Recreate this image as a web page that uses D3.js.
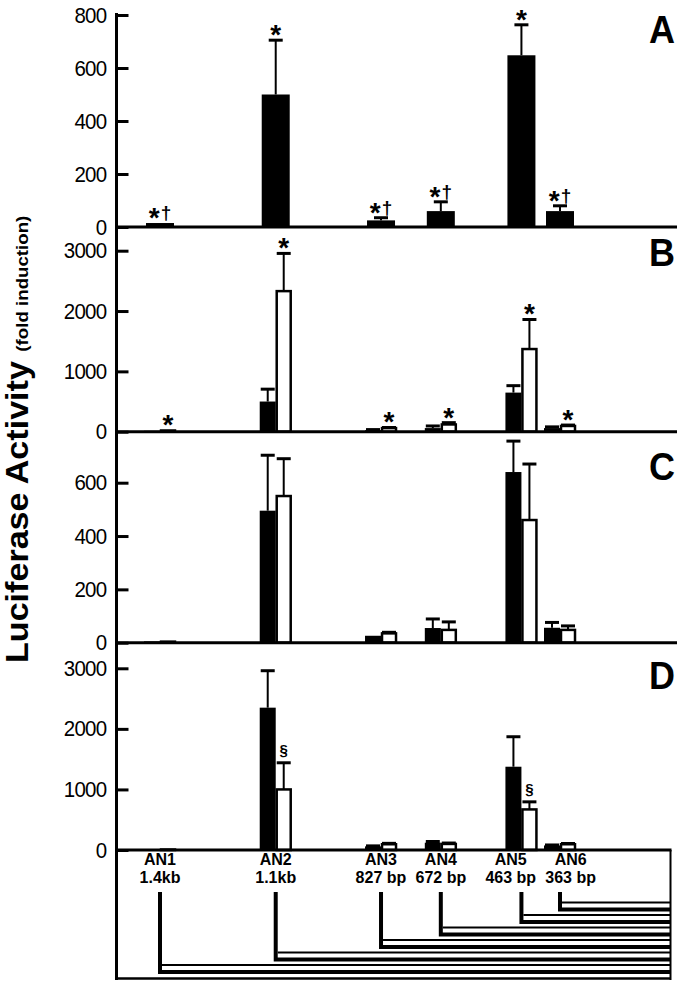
<!DOCTYPE html>
<html><head><meta charset="utf-8">
<script src="https://cdn.jsdelivr.net/npm/d3@7"></script>
<style>html,body{margin:0;padding:0;background:#fff}svg{display:block}</style>
</head><body>
<script>
// ---------- data ----------
const categories = ["AN1","AN2","AN3","AN4","AN5","AN6"];
const constructLengthBp = [1400,1100,827,672,463,363];
const lengthLabels = ["1.4kb","1.1kb","827 bp","672 bp","463 bp","363 bp"];

// Panel A (black only)
const aBlackMean = [15,500,25,60,648,60];
const aBlackErr  = [0,205,10,35,115,20];
const aMarks     = ["*†","*","*†","*†","*","*†"];
// Panel B
const bBlackMean = [15,500,25,60,648,60];
const bBlackErr  = [0,205,10,35,115,20];
const bWhiteMean = [20,2330,60,120,1370,95];
const bWhiteErr  = [0,625,10,30,490,15];
const bMarks     = ["*","*","*","*","*","*"];
// Panel C
const cBlackMean = [5,495,26,55,640,56];
const cBlackErr  = [0,208,0,34,116,20];
const cWhiteMean = [4,550,35,48,460,48];
const cWhiteErr  = [0,140,4,30,210,15];
// Panel D
const dBlackMean = [10,2350,60,120,1375,75];
const dBlackErr  = [0,610,8,20,495,8];
const dWhiteMean = [8,1000,95,100,670,95];
const dWhiteErr  = [0,440,15,15,125,12];
const dMarks     = ["","§","","","§",""];

const aTicks = [0,200,400,600,800];
const bTicks = [0,1000,2000,3000];
const cTicks = [0,200,400,600];
const dTicks = [0,1000,2000,3000];
const panelLetters = ["A","B","C","D"];
const yTitle = "Luciferase Activity";
const yTitleSub = "(fold induction)";

// ---------- layout ----------
const W = 677, H = 990;
const axisX = 116.5, rightX = 677, boxRight = 670.5;
const font = "'Liberation Sans', Arial, Helvetica, sans-serif";
const svg = d3.select("body").append("svg").attr("width", W).attr("height", H);

const x = d3.scaleLinear().domain([1400, 363]).range([160, 560]);
const bw = 16;

const panels = [
  {letter: panelLetters[0], domain:[0,800],  range:[227,15],      ticks:aTicks, single:true,
   black:aBlackMean, blackErr:aBlackErr, marks:aMarks, letterY:43},
  {letter: panelLetters[1], domain:[0,3000], range:[431.7,250.7], ticks:bTicks,
   black:bBlackMean, blackErr:bBlackErr, white:bWhiteMean, whiteErr:bWhiteErr, marks:bMarks, letterY:266},
  {letter: panelLetters[2], domain:[0,600],  range:[642.7,482.7], ticks:cTicks,
   black:cBlackMean, blackErr:cBlackErr, white:cWhiteMean, whiteErr:cWhiteErr, letterY:480},
  {letter: panelLetters[3], domain:[0,3000], range:[850,668.3],   ticks:dTicks,
   black:dBlackMean, blackErr:dBlackErr, white:dWhiteMean, whiteErr:dWhiteErr, marks:dMarks, letterY:689}
];

function drawErr(g, cx, y, mean, err){
  if(!err) return;
  const y0 = y(mean), y1 = y(mean+err);
  g.append("line").attr("x1",cx).attr("x2",cx).attr("y1",y0).attr("y2",y1)
    .attr("stroke","#000").attr("stroke-width",2);
  g.append("line").attr("x1",cx-7).attr("x2",cx+7).attr("y1",y1).attr("y2",y1)
    .attr("stroke","#000").attr("stroke-width",3);
}

function drawMark(g, txt, cx, capY){
  if(!txt) return;
  if(txt === "§"){
    g.append("text").attr("x",cx).attr("y",capY-8).attr("text-anchor","middle")
      .attr("font-family",font).attr("font-weight","bold").attr("font-size",15).text("§");
    return;
  }
  const t = g.append("text").attr("x",cx).attr("y",capY+4).attr("text-anchor","middle")
    .attr("font-family",font).attr("font-weight","bold").attr("font-size",28);
  t.append("tspan").text("*");
  if(txt.length>1){
    t.append("tspan").attr("font-size",19).attr("dy",-8).attr("dx",1).text(txt.slice(1));
  }
}

panels.forEach(p => {
  const y = d3.scaleLinear().domain(p.domain).range(p.range);
  const g = svg.append("g");
  categories.forEach((c,i) => {
    const cx = x(constructLengthBp[i]);
    if(p.single){
      g.append("rect").attr("x",cx-14).attr("width",28)
        .attr("y",y(p.black[i])).attr("height",y(0)-y(p.black[i])).attr("fill","#000");
      drawErr(g, cx, y, p.black[i], p.blackErr[i]);
      drawMark(g, p.marks[i], cx, y(p.black[i]+p.blackErr[i]));
    } else {
      const bx = cx - bw/2, wx = cx + bw/2;
      g.append("rect").attr("x",cx-bw).attr("width",bw)
        .attr("y",y(p.black[i])).attr("height",y(0)-y(p.black[i])).attr("fill","#000");
      g.append("rect").attr("x",cx+1).attr("width",bw-2)
        .attr("y",y(p.white[i])).attr("height",Math.max(0,y(0)-y(p.white[i])))
        .attr("fill","#fff").attr("stroke","#000").attr("stroke-width",2.5);
      drawErr(g, bx, y, p.black[i], p.blackErr[i]);
      drawErr(g, wx, y, p.white[i], p.whiteErr[i]);
      if(p.marks) drawMark(g, p.marks[i], wx, y(p.white[i]+p.whiteErr[i]));
    }
  });
  g.append("line").attr("x1",axisX).attr("x2", p.letter==="D"? boxRight+1 : rightX)
    .attr("y1",y(0)).attr("y2",y(0)).attr("stroke","#000").attr("stroke-width",3);
  const ax = svg.append("g").attr("transform",`translate(${axisX},0)`)
    .call(d3.axisLeft(y).tickValues(p.ticks).tickSizeInner(-12).tickSizeOuter(0).tickPadding(10).tickFormat(d3.format("d")));
  ax.select(".domain").remove();
  ax.selectAll(".tick line").attr("stroke","#000").attr("stroke-width",3);
  ax.selectAll(".tick text").attr("font-family",font).attr("font-size",20.5).attr("fill","#000")
    .attr("letter-spacing",-0.7).attr("transform","scale(1,1.08)");
  svg.append("text").attr("transform",`translate(675,${p.letterY}) scale(1,1.08)`)
    .attr("text-anchor","end").attr("font-family",font).attr("font-weight","bold")
    .attr("font-size",36).text(p.letter);
});

svg.append("line").attr("x1",axisX).attr("x2",axisX).attr("y1",13).attr("y2",980)
  .attr("stroke","#000").attr("stroke-width",3);

// ---------- construct diagram ----------
const dg = svg.append("g");
dg.append("line").attr("x1",axisX).attr("x2",boxRight).attr("y1",978.5).attr("y2",978.5)
  .attr("stroke","#000").attr("stroke-width",2.5);
dg.append("line").attr("x1",boxRight).attr("x2",boxRight).attr("y1",850).attr("y2",980)
  .attr("stroke","#000").attr("stroke-width",2);
const lineY = d3.scalePoint().domain(categories).range([972, 909.5]);

// label groups, nudged apart where they would collide
const labels = categories.map((c,i) => {
  const cx = x(constructLengthBp[i]);
  const lg = dg.append("g");
  lg.append("text").attr("y",865).attr("text-anchor","middle")
    .attr("font-family",font).attr("font-weight","bold").attr("font-size",16).text(c);
  lg.append("text").attr("y",883).attr("text-anchor","middle")
    .attr("font-family",font).attr("font-weight","bold").attr("font-size",16).text(lengthLabels[i]);
  const w = lg.node().getBBox().width;
  return {g: lg, cx, pos: cx, w};
});
const minGap = 9;
for(let it=0; it<50; it++){
  for(let i=0;i<labels.length-1;i++){
    const a = labels[i], b = labels[i+1];
    const overlap = (a.pos + a.w/2 + minGap) - (b.pos - b.w/2);
    if(overlap > 0){ a.pos -= overlap/2; b.pos += overlap/2; }
  }
}
labels.forEach(l => l.g.attr("transform",`translate(${l.pos},0)`));

categories.forEach((c,i) => {
  const cx = x(constructLengthBp[i]);
  const ly = lineY(c);
  dg.append("path").attr("d",`M${cx},892V${ly}H${boxRight}`)
    .attr("fill","none").attr("stroke","#000").attr("stroke-width",4).attr("stroke-linejoin","miter");
  dg.append("line").attr("x1",cx+2).attr("x2",boxRight).attr("y1",ly-7).attr("y2",ly-7)
    .attr("stroke","#000").attr("stroke-width",2);
});

// ---------- y title ----------
const yt = svg.append("text").attr("transform","translate(28,663) rotate(-90) scale(1.1,1)")
  .attr("font-family",font).attr("font-weight","bold").attr("font-size",31).attr("fill","#000");
yt.append("tspan").text(yTitle + " ");
yt.append("tspan").attr("font-size",17).text(yTitleSub);
</script>
</body></html>
